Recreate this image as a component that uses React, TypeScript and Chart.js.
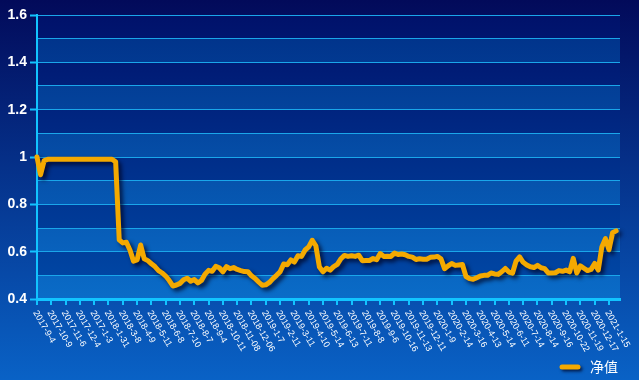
import React, { useEffect, useRef } from 'react';
import { Chart, registerables } from 'chart.js';

Chart.register(...registerables);

// ---- data ----
const xLabels = [
  '2017-9-4', '2017-10-9', '2017-11-6', '2017-12-4', '2017-1-3',
  '2018-1-31', '2018-3-8', '2018-4-9', '2018-5-11', '2018-6-8', '2018-7-10', '2018-8-7',
  '2018-9-4', '2018-10-11', '2018-11-08', '2018-12-06',
  '2019-1-7', '2019-2-11', '2019-3-11', '2019-4-10', '2019-5-14', '2019-6-13', '2019-7-11',
  '2019-8-8', '2019-9-6', '2019-10-16', '2019-11-13', '2019-12-11',
  '2020-1-9', '2020-2-14', '2020-3-16', '2020-4-13', '2020-5-14', '2020-6-11', '2020-7-14',
  '2020-8-14', '2020-9-16', '2020-10-22', '2020-11-19', '2020-12-17', '2021-1-15',
];

const POINTS_PER_LABEL = 4;

const navValues = [
  1.0, 0.925, 0.985,
  0.99, 0.99, 0.99, 0.99, 0.99, 0.99, 0.99, 0.99, 0.99, 0.99,
  0.99, 0.99, 0.99, 0.99, 0.99, 0.99, 0.99, 0.99, 0.99,
  0.98, 0.65, 0.637, 0.64, 0.607, 0.56, 0.565, 0.628, 0.57, 0.562,
  0.549, 0.537, 0.52, 0.51, 0.497, 0.478, 0.455, 0.459, 0.466, 0.481,
  0.488, 0.475, 0.482, 0.468, 0.478, 0.505, 0.521, 0.517, 0.538, 0.532,
  0.515, 0.537, 0.528, 0.533, 0.525, 0.52, 0.516, 0.515, 0.498, 0.487,
  0.472, 0.458, 0.46, 0.47, 0.486, 0.5, 0.515, 0.548, 0.545, 0.565,
  0.556, 0.583, 0.58, 0.607, 0.62, 0.648, 0.625, 0.535, 0.515, 0.53,
  0.522, 0.537, 0.546, 0.57, 0.584, 0.58, 0.583, 0.58, 0.585, 0.562,
  0.563, 0.563, 0.571, 0.566, 0.592, 0.58, 0.581, 0.58, 0.594, 0.588,
  0.59, 0.587, 0.58, 0.577, 0.567, 0.57, 0.568, 0.568, 0.576, 0.577,
  0.58, 0.57, 0.528, 0.54, 0.55, 0.542, 0.544, 0.546, 0.495, 0.486,
  0.483, 0.49, 0.497, 0.5, 0.5, 0.51, 0.506, 0.504, 0.515, 0.529,
  0.514, 0.509, 0.56, 0.578, 0.555, 0.544, 0.536, 0.533, 0.542, 0.532,
  0.528, 0.51, 0.51, 0.511, 0.52, 0.517, 0.522, 0.515, 0.572, 0.51,
  0.54, 0.53, 0.52, 0.525, 0.55, 0.522, 0.62, 0.655, 0.608, 0.68,
  0.688,
];

const seriesName = '净值';
const yMin = 0.4;
const yMax = 1.6;
const yStep = 0.1;
const xMax = 40.77;

// ---- styles ----
const LINE_COLOR = '#f4a900';
const AXIS_COLOR = '#12c4ff';
const GRID_COLOR = '#1aa6ea';

const bgPlugin = {
  id: 'bgBands',
  beforeDraw(chart: any) {
    const { ctx, width, height, chartArea, scales } = chart;
    ctx.save();
    const g = ctx.createLinearGradient(0, 0, 0, height);
    g.addColorStop(0, '#020a5a');
    g.addColorStop(1, '#0962c6');
    ctx.fillStyle = g;
    ctx.fillRect(0, 0, width, height);

    const { left, right, top, bottom } = chartArea;
    const light = ctx.createLinearGradient(0, top, 0, bottom);
    light.addColorStop(0, '#002f86');
    light.addColorStop(1, '#0a6cc8');
    const dark = ctx.createLinearGradient(0, top, 0, bottom);
    dark.addColorStop(0, '#00116a');
    dark.addColorStop(1, '#004aa8');
    const y = scales.y;
    const n = Math.round((yMax - yMin) / yStep);
    for (let k = 0; k < n; k++) {
      const y0 = y.getPixelForValue(yMin + k * yStep);
      const y1 = y.getPixelForValue(yMin + (k + 1) * yStep);
      ctx.fillStyle = k % 2 === 0 ? light : dark;
      ctx.fillRect(left, y1, right - left, y0 - y1);
    }
    ctx.restore();
  },
};

const shadowPlugin = {
  id: 'lineShadow',
  beforeDatasetsDraw(chart: any) {
    const ctx = chart.ctx;
    ctx.save();
    ctx.shadowColor = 'rgba(0, 0, 30, 0.75)';
    ctx.shadowBlur = 4;
    ctx.shadowOffsetX = 3;
    ctx.shadowOffsetY = 3;
  },
  afterDatasetsDraw(chart: any) {
    chart.ctx.restore();
  },
};

const labelsPlugin = {
  id: 'customLabels',
  afterDraw(chart: any) {
    const { ctx, chartArea, scales } = chart;
    const xs = scales.x;
    ctx.save();
    ctx.fillStyle = '#ffffff';
    ctx.font = '9px "Liberation Sans", Arial, sans-serif';
    ctx.textAlign = 'left';
    ctx.textBaseline = 'top';
    xLabels.forEach((lab, i) => {
      const px = xs.getPixelForValue(i);
      ctx.save();
      ctx.translate(px + 2, chartArea.bottom + 10);
      ctx.rotate((60 * Math.PI) / 180);
      ctx.fillText(lab, 0, 0);
      ctx.restore();
    });

    // legend
    const lx = 562;
    const ly = 367;
    ctx.save();
    ctx.shadowColor = 'rgba(0, 0, 30, 0.7)';
    ctx.shadowBlur = 3;
    ctx.shadowOffsetX = 2;
    ctx.shadowOffsetY = 2;
    ctx.strokeStyle = LINE_COLOR;
    ctx.lineWidth = 5;
    ctx.lineCap = 'round';
    ctx.beginPath();
    ctx.moveTo(lx, ly);
    ctx.lineTo(lx + 16, ly);
    ctx.stroke();
    ctx.restore();
    ctx.fillStyle = '#ffffff';
    ctx.font = '14px "Noto Sans CJK SC", sans-serif';
    ctx.textBaseline = 'middle';
    ctx.fillText(seriesName, 590, ly);
    ctx.restore();
  },
};

export default function App() {
  const ref = useRef<HTMLCanvasElement>(null);
  useEffect(() => {
    document.body.style.margin = '0';
    const data = navValues.map((v, i) => ({ x: i / POINTS_PER_LABEL, y: v }));
    const chart = new Chart(ref.current as HTMLCanvasElement, {
      type: 'line',
      data: {
        datasets: [
          {
            label: seriesName,
            data,
            borderColor: LINE_COLOR,
            backgroundColor: LINE_COLOR,
            borderWidth: 5,
            borderJoinStyle: 'round',
            borderCapStyle: 'round',
            pointRadius: 0,
            tension: 0,
            clip: false as any,
          },
        ],
      },
      options: {
        responsive: false,
        animation: false,
        devicePixelRatio: 1,
        layout: { padding: { top: 15, right: 19, left: 0, bottom: 0 } },
        plugins: { legend: { display: false }, tooltip: { enabled: false } },
        scales: {
          x: {
            type: 'linear',
            min: 0,
            max: xMax,
            afterFit: (s: any) => { s.height = 81; },
            ticks: { display: false, stepSize: 1, maxTicksLimit: 100, includeBounds: false },
            grid: {
              drawOnChartArea: false,
              drawTicks: true,
              tickLength: 6,
              color: AXIS_COLOR,
              lineWidth: 2,
            },
            border: { display: true, color: AXIS_COLOR, width: 3 },
          },
          y: {
            type: 'linear',
            min: yMin,
            max: yMax,
            afterFit: (s: any) => { s.width = 37; },
            ticks: {
              stepSize: yStep,
              maxTicksLimit: 30,
              padding: 3,
              color: '#ffffff',
              font: { family: '"Liberation Sans", Arial, sans-serif', size: 14, weight: 'bold' },
              callback: (value: any) => {
                const k = Math.round(Number(value) * 10);
                return k % 2 === 0 ? String(k / 10) : '';
              },
            },
            grid: {
              color: GRID_COLOR,
              lineWidth: 1,
              drawTicks: true,
              tickLength: 7,
              tickWidth: 2,
              tickColor: (c: any) => {
                const v = c.tick ? c.tick.value : 0;
                return Math.round(v * 10) % 2 === 0 ? AXIS_COLOR : 'rgba(0,0,0,0)';
              },
            },
            border: { display: true, color: AXIS_COLOR, width: 2 },
          },
        },
      },
      plugins: [bgPlugin, shadowPlugin, labelsPlugin],
    });
    return () => chart.destroy();
  }, []);
  return (
    <div style={{ width: 639, height: 380 }}>
      <canvas ref={ref} width={639} height={380} style={{ display: 'block' }} />
    </div>
  );
}
